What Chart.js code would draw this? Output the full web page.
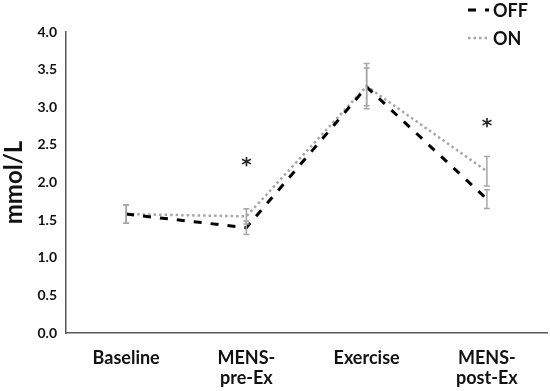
<!DOCTYPE html>
<html>
<head>
<meta charset="utf-8">
<script src="https://cdn.jsdelivr.net/npm/chart.js@4/dist/chart.umd.min.js"></script>
<style>
html,body{margin:0;padding:0;background:#fff;}
#wrap{width:550px;height:391px;position:relative;}
</style>
</head>
<body>
<div id="wrap"><canvas id="c" width="550" height="391"></canvas></div>
<script>
const categories = [["Baseline"], ["MENS-", "pre-Ex"], ["Exercise"], ["MENS-", "post-Ex"]];
const offValues = [1.58, 1.40, 3.27, 1.78];
const offErrors = [0.12, 0.09, 0.25, 0.125];
const onValues = [1.58, 1.55, 3.28, 2.15];
const onErrors = [0.12, 0.10, 0.30, 0.195];
const significance = [null, 2.27, null, 2.79];
const yTicks = [0, 0.5, 1, 1.5, 2, 2.5, 3, 3.5, 4];

const FONT = "Lato, 'Open Sans', sans-serif";

const errorBarPlugin = {
  id: 'errorBars',
  afterDatasetsDraw(chart) {
    const ctx = chart.ctx;
    const y = chart.scales.y;
    ctx.save();
    ctx.strokeStyle = '#a6a6a6';
    ctx.lineWidth = 1.5;
    chart.data.datasets.forEach((ds, i) => {
      const meta = chart.getDatasetMeta(i);
      ds.errors.forEach((e, j) => {
        const pt = meta.data[j];
        const v = ds.data[j];
        const top = y.getPixelForValue(v + e);
        const bot = y.getPixelForValue(v - e);
        ctx.beginPath();
        ctx.moveTo(pt.x, top); ctx.lineTo(pt.x, bot);
        ctx.moveTo(pt.x - 3, top); ctx.lineTo(pt.x + 3, top);
        ctx.moveTo(pt.x - 3, bot); ctx.lineTo(pt.x + 3, bot);
        ctx.stroke();
      });
    });
    ctx.fillStyle = '#222';
    ctx.font = "bold 20px 'DejaVu Sans', sans-serif";
    ctx.textAlign = 'center';
    ctx.textBaseline = 'middle';
    significance.forEach((s, j) => {
      if (s === null) return;
      const x = chart.scales.x.getPixelForValue(j);
      ctx.fillText('*', x, y.getPixelForValue(s) + 4);
    });
    ctx.restore();
  },
  afterDraw(chart) {
    const ctx = chart.ctx;
    ctx.save();
    const rows = [10, 38];
    chart.data.datasets.forEach((ds, i) => {
      const yy = rows[i];
      ctx.beginPath();
      ctx.strokeStyle = ds.borderColor;
      ctx.lineWidth = ds.borderWidth;
      ctx.setLineDash(ds.borderDash);
      ctx.moveTo(468, yy); ctx.lineTo(489, yy);
      ctx.stroke();
      ctx.setLineDash([]);
      ctx.fillStyle = '#111';
      ctx.font = "bold 18px " + FONT;
      ctx.textAlign = 'left';
      ctx.textBaseline = 'middle';
      ctx.fillText(ds.label, 493, yy + 1);
    });
    ctx.restore();
  }
};

new Chart(document.getElementById('c'), {
  type: 'line',
  data: {
    labels: categories,
    datasets: [
      {
        label: 'OFF',
        data: offValues,
        errors: offErrors,
        borderColor: '#000000',
        borderWidth: 3,
        borderDash: [8, 9],
        pointRadius: 0,
        fill: false,
        tension: 0
      },
      {
        label: 'ON',
        data: onValues,
        errors: onErrors,
        borderColor: '#a6a6a6',
        borderWidth: 2.5,
        borderDash: [2.5, 3],
        pointRadius: 0,
        fill: false,
        tension: 0
      }
    ]
  },
  options: {
    responsive: false,
    animation: false,
    devicePixelRatio: 1,
    layout: { padding: { top: 32, right: 3, left: 0, bottom: 0 } },
    plugins: { legend: { display: false }, tooltip: { enabled: false } },
    scales: {
      x: {
        offset: true,
        grid: { display: false, drawTicks: false },
        border: { color: '#595959', width: 1.5 },
        ticks: {
          color: '#111',
          font: { family: FONT, weight: 'bold', size: 18, lineHeight: 1.1 },
          padding: 15,
          maxRotation: 0,
          autoSkip: false
        },
        afterFit(s) { s.height = 58; }
      },
      y: {
        min: 0,
        max: 4,
        afterBuildTicks(s) { s.ticks = yTicks.map(v => ({ value: v })); },
        grid: { display: false, drawTicks: false },
        border: { color: '#595959', width: 1.5 },
        ticks: {
          color: '#111',
          font: { family: FONT, weight: 'bold', size: 14 },
          padding: 9,
          callback: v => Number(v).toFixed(1)
        },
        title: {
          display: true,
          text: 'mmol/L',
          color: '#111',
          font: { family: FONT, weight: 'bold', size: 24 },
          padding: { top: 0, bottom: 2 }
        },
        afterFit(s) { s.width = 66; }
      }
    }
  },
  plugins: [errorBarPlugin]
});
</script>
</body>
</html>
